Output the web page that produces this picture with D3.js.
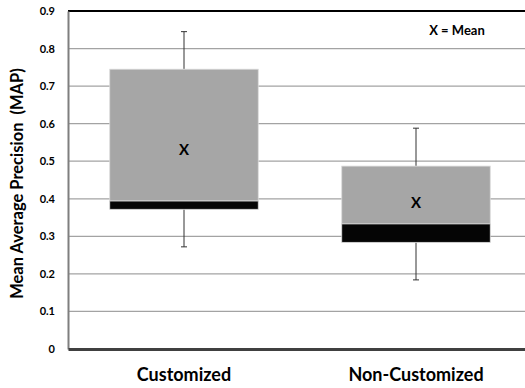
<!DOCTYPE html>
<html><head><meta charset="utf-8">
<script src="https://cdn.jsdelivr.net/npm/d3@7"></script>
<style>body{margin:0;background:#fff}svg{display:block}text{font-family:Lato,"Open Sans",sans-serif;font-weight:bold;fill:#000}</style>
</head><body><svg id="c" width="525" height="388"></svg>
<script>
const categories = ["Customized", "Non-Customized"];
const minVals = [0.272, 0.184];
const q1Vals = [0.372, 0.284];
const medianVals = [0.394, 0.333];
const q3Vals = [0.745, 0.487];
const maxVals = [0.845, 0.588];
const meanVals = [0.53, 0.389];
const yTicks = [0, 0.1, 0.2, 0.3, 0.4, 0.5, 0.6, 0.7, 0.8, 0.9];

const svg = d3.select("#c");
const L = 68, R = 532, T = 11, B = 349;
const x = d3.scaleBand().domain(categories).range([L, R]).paddingInner(0.36).paddingOuter(0.18);
const y = d3.scaleLinear().domain([0, 0.9]).range([B, T]);

// gridlines
svg.append("g").selectAll("line").data(yTicks.filter(d => d > 0 && d < 0.9)).join("line")
  .attr("x1", L).attr("x2", 525).attr("y1", d => y(d)).attr("y2", d => y(d))
  .attr("stroke", "#a3a3a3").attr("stroke-width", 1.2);
// top border
svg.append("line").attr("x1", L).attr("x2", 525).attr("y1", y(0.9)).attr("y2", y(0.9))
  .attr("stroke", "#000").attr("stroke-width", 2);

const data = categories.map((c, i) => ({c, min: minVals[i], q1: q1Vals[i], med: medianVals[i], q3: q3Vals[i], max: maxVals[i], mean: meanVals[i]}));
const g = svg.append("g").selectAll("g").data(data).join("g");
const cx = d => x(d.c) + x.bandwidth() / 2;
// whiskers
g.append("line").attr("x1", cx).attr("x2", cx).attr("y1", d => y(d.max)).attr("y2", d => y(d.q3)).attr("stroke", "#333").attr("stroke-width", 1);
g.append("line").attr("x1", cx).attr("x2", cx).attr("y1", d => y(d.q1)).attr("y2", d => y(d.min)).attr("stroke", "#333").attr("stroke-width", 1);
g.append("line").attr("x1", d => cx(d) - 3).attr("x2", d => cx(d) + 3).attr("y1", d => y(d.max)).attr("y2", d => y(d.max)).attr("stroke", "#333");
g.append("line").attr("x1", d => cx(d) - 3).attr("x2", d => cx(d) + 3).attr("y1", d => y(d.min)).attr("y2", d => y(d.min)).attr("stroke", "#333");
// gray box
g.append("rect").attr("x", d => x(d.c)).attr("width", x.bandwidth())
  .attr("y", d => y(d.q3)).attr("height", d => y(d.med) - y(d.q3))
  .attr("fill", "#a6a6a6").attr("stroke", "#d9d9d9").attr("stroke-width", 0.8);
// black band
g.append("rect").attr("x", d => x(d.c)).attr("width", x.bandwidth())
  .attr("y", d => y(d.med)).attr("height", d => y(d.q1) - y(d.med))
  .attr("fill", "#050505").attr("stroke", "#d9d9d9").attr("stroke-width", 0.8);
// mean marker
g.append("text").attr("x", cx).attr("y", d => y(d.mean)).attr("dy", "0.36em")
  .attr("text-anchor", "middle").attr("font-size", 15).text("X");

// left axis
const ya = svg.append("g").attr("transform", `translate(${L},0)`)
  .call(d3.axisLeft(y).tickValues(yTicks).tickSize(0).tickPadding(13).tickFormat(d => d === 0 ? "0" : d3.format(".1f")(d)));
ya.select(".domain").attr("stroke", "#7f7f7f").attr("stroke-width", 2);
ya.selectAll("text").attr("font-size", 11).attr("font-family", "Lato, sans-serif").attr("font-weight", "bold");

// bottom axis
const xa = svg.append("g").attr("transform", `translate(0,${B})`)
  .call(d3.axisBottom(x).tickSize(0).tickPadding(19));
xa.select(".domain").attr("stroke", "#404040").attr("stroke-width", 3);
xa.selectAll("text").attr("font-size", 18).attr("font-family", "Lato, sans-serif").attr("font-weight", "bold");

// y title
svg.append("text").attr("transform", `translate(23,183.5) rotate(-90)`)
  .attr("text-anchor", "middle").attr("font-size", 16.5).attr("xml:space", "preserve").style("white-space", "pre")
  .text("Mean Average Precision  (MAP)");

// legend note
svg.append("text").attr("x", 457).attr("y", 35).attr("text-anchor", "middle").attr("font-size", 13).text("X = Mean");
</script></body></html>
